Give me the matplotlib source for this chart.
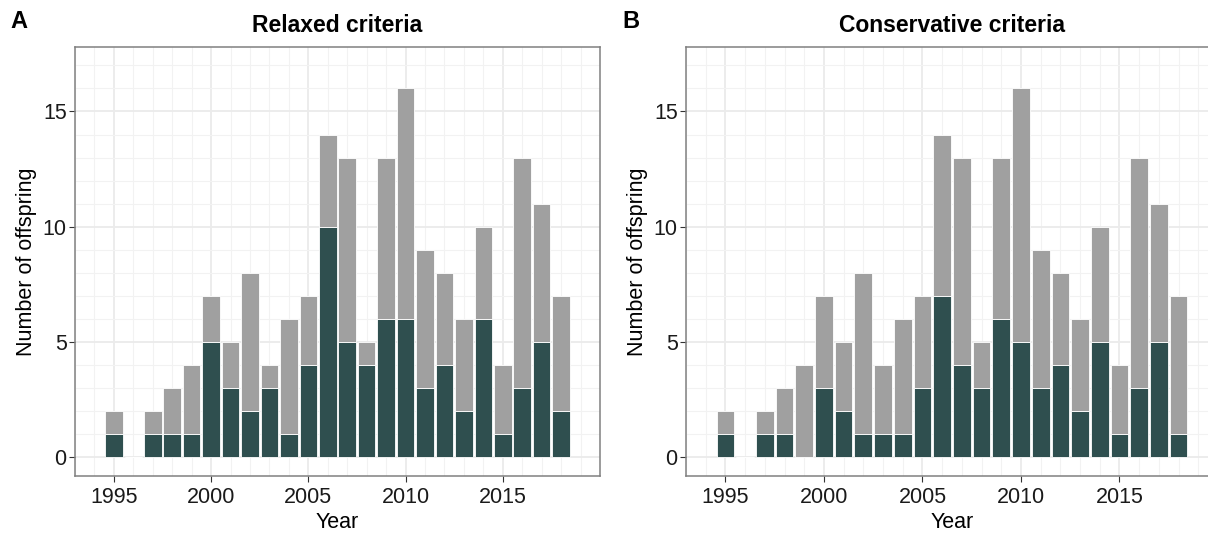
import numpy as np
import matplotlib
matplotlib.use("Agg")
import matplotlib.pyplot as plt

plt.rcParams["font.family"] = ["Liberation Sans", "DejaVu Sans"]

# data
years = list(range(1995, 2019))
total = [2, 0, 2, 3, 4, 7, 5, 8, 4, 6, 7, 14, 13, 5, 13, 16, 9, 8, 6, 10, 4, 13, 11, 7]
relaxed = [1, 0, 1, 1, 1, 5, 3, 2, 3, 1, 4, 10, 5, 4, 6, 6, 3, 4, 2, 6, 1, 3, 5, 2]
conservative = [1, 0, 1, 1, 0, 3, 2, 1, 1, 1, 3, 7, 4, 3, 6, 5, 3, 4, 2, 5, 1, 3, 5, 1]

panels = [("A", "Relaxed criteria", relaxed), ("B", "Conservative criteria", conservative)]

dark = "#2F4F4F"
light = "#A0A0A0"

W, H = 1208, 535
fig = plt.figure(figsize=(W / 100, H / 100), dpi=100)

# axes boxes in pixels: left, top, width, height
boxes = [(75, 47, 525, 429), (686, 47, 532, 429)]
letters_x = [10, 622]

for (letter, title, sub), (l, t, w, h), lx in zip(panels, boxes, letters_x):
    ax = fig.add_axes([l / W, (H - t - h) / H, w / W, h / H])
    rest = [a - b for a, b in zip(total, sub)]
    ax.bar(years, sub, width=0.9, color=dark, edgecolor="white", linewidth=0.6, zorder=3)
    ax.bar(years, rest, bottom=sub, width=0.9, color=light, edgecolor="white", linewidth=0.6, zorder=3)

    ax.set_xlim(1993.4, 2020.0)
    ax.set_ylim(-0.83, 17.8)
    ax.set_xticks([1995, 2000, 2005, 2010, 2015])
    ax.set_yticks([0, 5, 10, 15])
    ax.set_xticks(range(1993, 2021), minor=True)
    ax.set_yticks(range(0, 18), minor=True)
    ax.grid(which="major", color="#EBEBEB", linewidth=1.3, zorder=0)
    ax.grid(which="minor", color="#F2F2F2", linewidth=0.8, zorder=0)
    ax.set_axisbelow(True)
    ax.tick_params(which="minor", length=0)
    ax.tick_params(which="major", length=4, width=0.8, color="#333333",
                   labelsize=15.5, labelcolor="#1A1A1A", pad=2)
    ax.tick_params(axis="x", which="major", pad=4)
    for s in ax.spines.values():
        s.set_color("#808080")
        s.set_linewidth(1.1)
    ax.set_xlabel("Year", fontsize=15.5, labelpad=3)
    ax.set_ylabel("Number of offspring", fontsize=15.5, labelpad=4)
    ax.set_title(title, fontsize=16.5, fontweight="bold", pad=11)
    fig.text(lx / W, 1 - 22 / H, letter, fontsize=17, fontweight="bold", va="center", ha="left")

fig.savefig("out.png", dpi=100)
